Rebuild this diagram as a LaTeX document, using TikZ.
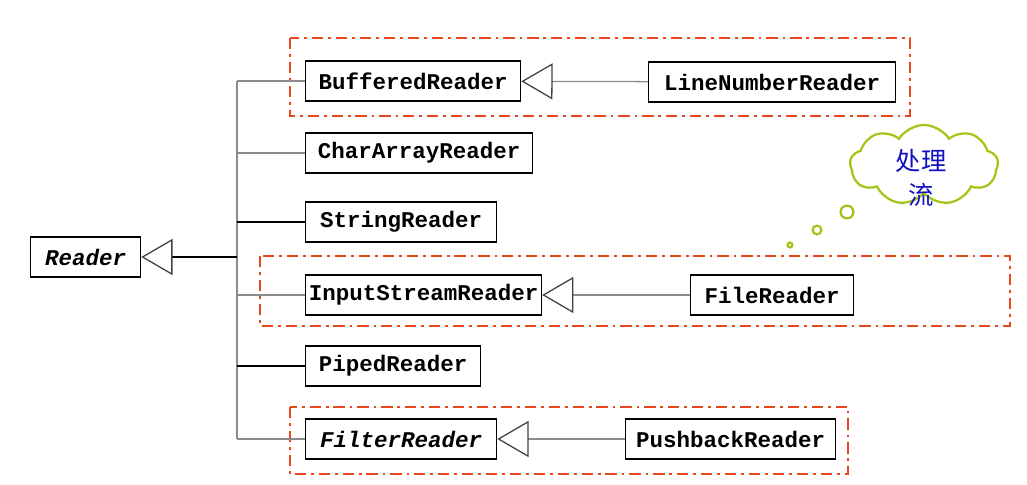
\documentclass[tikz,border=0pt]{standalone}
\usepackage{fontspec}
\setmonofont{Liberation Mono}
\newfontfamily\cjk{Noto Sans CJK SC}
\usepackage{tikz}
\usetikzlibrary{arrows.meta, positioning, shapes.symbols}
\definecolor{GroupRed}{HTML}{E8471C}
\definecolor{CloudGreen}{HTML}{A2C617}
\definecolor{CloudBlue}{HTML}{1010C0}
\tikzset{
    % class boxes
    classbox/.style={
        rectangle,
        draw=black,
        fill=white,
        line width=0.9pt,
        minimum height=1cm,
        inner xsep=0.08cm,
        anchor=west,
        font=\fontsize{16}{18}\selectfont\ttfamily\bfseries
    },
    abstractbox/.style={
        classbox,
        font=\fontsize{16}{18}\selectfont\ttfamily\bfseries\itshape
    },
    % connectors
    link/.style={
        draw=black!45,
        line width=0.9pt
    },
    darklink/.style={
        link,
        draw=black
    },
    inherit/.style={
        link,
        -{Triangle[open,length=0.78cm,width=0.9cm,color=black!75]}
    },
    % groups and the thought cloud
    groupbox/.style={
        draw=GroupRed,
        line width=1.4pt,
        dash pattern=on 8pt off 3.5pt on 2pt off 3.5pt
    },
    thought/.style={
        cloud,
        cloud puffs=9,
        cloud puff arc=115,
        draw=CloudGreen,
        line width=1.6pt,
        fill=white,
        minimum width=3.7cm,
        minimum height=2cm
    },
    notetext/.style={
        align=center,
        text=CloudBlue,
        inner sep=0pt,
        font=\cjk\fontsize{18}{24}\selectfont
    },
    bubble/.style={
        circle,
        draw=CloudGreen,
        line width=1.6pt,
        fill=white,
        inner sep=0pt
    }
}
\begin{document}
\begin{tikzpicture}[x=0.025cm, y=-0.025cm]
    \useasboundingbox (0,0) rectangle (1027,485);

    % groups
    \draw[groupbox] (290,38) rectangle (910,116);
    \draw[groupbox] (260,256) rectangle (1010,326);
    \draw[groupbox] (290,407) rectangle (848,474);

    % classes
    \node[abstractbox, minimum width=2.75cm] (reader) at (30,257) {Reader};
    \node[classbox, minimum width=5.375cm] (br) at (305,81) {BufferedReader};
    \node[classbox, minimum width=6.175cm] (lnr) at (648,82) {LineNumberReader};
    \node[classbox, minimum width=5.675cm] (car) at (305,153) {CharArrayReader};
    \node[classbox, minimum width=4.775cm] (sr) at (305,222) {StringReader};
    \node[classbox, minimum width=5.825cm] (isr) at (305,295) {InputStreamReader};
    \node[classbox, minimum width=4.075cm] (fr) at (690,295) {FileReader};
    \node[classbox, minimum width=4.375cm] (pr) at (305,366) {PipedReader};
    \node[abstractbox, minimum width=4.775cm] (filr) at (305,439) {FilterReader};
    \node[classbox, minimum width=5.25cm] (pbr) at (625,439) {PushbackReader};

    % trunk
    \coordinate (ttop) at (237,81);
    \coordinate (tbot) at (237,439);
    \coordinate (tmid) at (237,257);
    \draw[link] (ttop) -- (tbot);
    \draw[darklink, -{Triangle[open,length=0.78cm,width=0.9cm,color=black!75]}] (tmid) -- (reader);
    \draw[link] (br.west -| ttop) -- (br.west);
    \draw[link] (car.west -| ttop) -- (car.west);
    \draw[darklink] (sr.west -| ttop) -- (sr.west);
    \draw[link] (isr.west -| ttop) -- (isr.west);
    \draw[darklink] (pr.west -| ttop) -- (pr.west);
    \draw[link] (filr.west -| ttop) -- (filr.west);

    % subclasses
    \draw[inherit] (lnr) -- (br);
    \draw[inherit] (fr) -- (isr);
    \draw[inherit] (pbr) -- (filr);

    % thought cloud
    \node[thought] (note) at (924,165) {};
    \node[notetext] (notetxt) at (921,178) {处理\\流};
    \node[bubble, minimum size=0.32cm] (b1) at (847,212) {};
    \node[bubble, minimum size=0.22cm] (b2) at (817,230) {};
    \node[bubble, minimum size=0.12cm] (b3) at (790,245) {};
\end{tikzpicture}
\end{document}
